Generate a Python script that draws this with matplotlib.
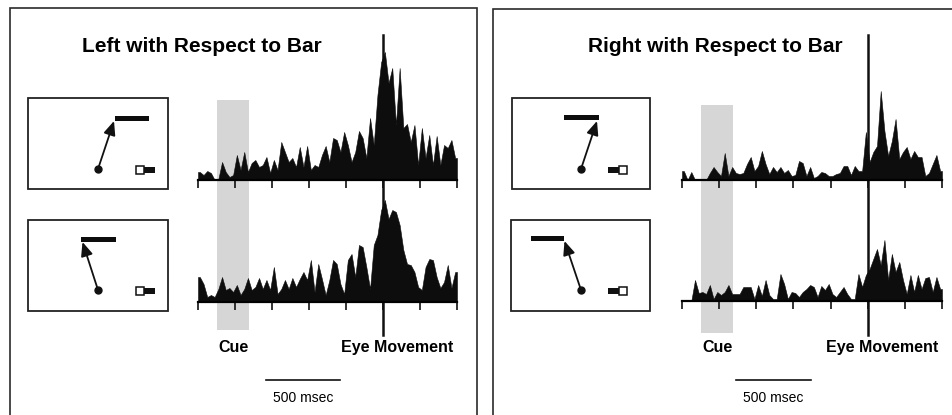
import matplotlib
matplotlib.use('Agg')
import matplotlib.pyplot as plt
from matplotlib.patches import Rectangle
import numpy as np

plt.rcParams['font.family'] = ['Liberation Sans', 'DejaVu Sans']

# ---------------- data (firing rate, arbitrary units; 25 ms bins) ----------------
bin_ms = 25
t_start, t_end = -1250, 500          # ms relative to eye movement
tick_times = list(range(-1250, 501, 250))
cue_window = (-1120, -905)           # ms
scale_bar_ms = 500

left_top = [8, 5, 9, 7, 0, 1, 18, 8, 3, 5, 25, 10, 28, 8, 17, 20, 13, 15, 23, 7,
            20, 10, 38, 28, 18, 22, 13, 33, 13, 34, 10, 15, 13, 25, 34, 18, 42, 40, 28, 48,
            35, 18, 28, 49, 42, 22, 62, 35, 85, 118, 128, 97, 112, 55, 112, 52, 56, 38, 55, 15,
            52, 22, 45, 15, 44, 15, 35, 32, 40, 22]
left_bottom = [25, 18, 5, 7, 5, 13, 25, 12, 14, 10, 17, 7, 13, 24, 12, 15, 24, 13, 22, 12,
               35, 8, 13, 22, 13, 24, 15, 23, 30, 22, 42, 10, 38, 23, 7, 22, 42, 38, 18, 8,
               42, 48, 25, 57, 55, 35, 13, 57, 67, 92, 102, 83, 92, 90, 77, 52, 38, 37, 30, 15,
               12, 35, 43, 42, 25, 14, 20, 37, 14, 30]
right_top = [9, 0, 8, 0, 0, 0, 0, 7, 13, 8, 4, 27, 4, 13, 7, 6, 7, 16, 23, 9,
             14, 29, 16, 6, 13, 8, 13, 7, 10, 4, 5, 19, 17, 4, 13, 2, 4, 8, 7, 4,
             4, 6, 7, 14, 14, 5, 14, 9, 9, 48, 18, 28, 34, 89, 49, 24, 39, 61, 21, 28,
             33, 21, 29, 23, 23, 4, 7, 16, 25, 9]
right_bottom = [0, 0, 0, 21, 8, 9, 7, 16, 2, 9, 6, 9, 16, 7, 7, 7, 14, 14, 14, 2,
                16, 5, 21, 6, 2, 2, 27, 17, 2, 9, 8, 4, 9, 12, 16, 14, 4, 15, 11, 17,
                7, 4, 9, 14, 7, 2, 2, 27, 14, 26, 32, 42, 52, 36, 61, 21, 47, 29, 39, 21,
                7, 26, 9, 26, 12, 23, 24, 9, 24, 12]

titles = ["Left with Respect to Bar", "Right with Respect to Bar"]
cue_label = "Cue"
event_label = "Eye Movement"
scale_label = "500 msec"

# ---------------- figure ----------------
W, H = 952, 415
fig = plt.figure(figsize=(W / 100, H / 100), dpi=100)
fig.patch.set_facecolor('white')

ov = fig.add_axes([0, 0, 1, 1], zorder=0)
ov.set_xlim(0, W)
ov.set_ylim(H, 0)
ov.axis('off')

# panel frames
ov.plot([10, 10, 477, 477], [H, 8, 8, H], color='#2a2a2a', lw=1.2, solid_joinstyle='miter')
ov.plot([493, 493, W], [H, 9, 9], color='#2a2a2a', lw=1.2, solid_joinstyle='miter')

centers = np.arange(t_start, t_end, bin_ms) + bin_ms / 2


def hist_axes(x0, x1, base, vals):
    ax = fig.add_axes([x0 / W, 1 - base / H, (x1 - x0) / W, 140 / H], zorder=2)
    ax.patch.set_alpha(0)
    xs = np.concatenate([[t_start], centers, [t_end]])
    ys = np.concatenate([[vals[0]], vals, [vals[-1]]])
    ax.fill_between(xs, 0, ys, color='#0d0d0d', lw=0.4, edgecolor='#0d0d0d')
    ax.set_xlim(t_start, t_end)
    ax.set_ylim(0, 140)
    for s in ['top', 'right', 'left']:
        ax.spines[s].set_visible(False)
    ax.spines['bottom'].set_linewidth(1.6)
    ax.set_xticks(tick_times)
    ax.set_xticklabels([])
    ax.set_yticks([])
    ax.tick_params(axis='x', direction='out', length=5.5, width=1.2, color='#111')
    return ax


def inset(box, bar, dot, tip, icon_y, open_left, icon_x):
    bx0, by0, bx1, by1 = box
    ov.add_patch(Rectangle((bx0, by0), bx1 - bx0, by1 - by0, fill=False,
                           edgecolor='#222', lw=1.3))
    ov.add_patch(Rectangle((bar[0], bar[1]), bar[2] - bar[0], 5, color='#0d0d0d', lw=0))
    ov.annotate('', xy=tip, xytext=dot,
                arrowprops=dict(arrowstyle='-|>,head_length=0.7,head_width=0.3',
                                lw=1.3, color='#111', shrinkA=0, shrinkB=0,
                                mutation_scale=12))
    ov.plot([dot[0]], [dot[1]], 'o', color='#111', ms=5)
    if open_left:
        sq_x, fl_x = icon_x, icon_x + 8
    else:
        fl_x, sq_x = icon_x, icon_x + 11
    ov.add_patch(Rectangle((fl_x, icon_y - 3), 11, 6, color='#111', lw=0))
    ov.add_patch(Rectangle((sq_x, icon_y - 4), 8, 8, facecolor='white',
                           edgecolor='#111', lw=1.1, zorder=3))


panels = [
    dict(x0=198, x1=457, title_x=202, data=(left_top, left_bottom), bases=(180, 302),
         cue_y=(100, 330), sb=-790),
    dict(x0=682, x1=942, title_x=715, data=(right_top, right_bottom), bases=(180, 301),
         cue_y=(105, 333), sb=-885),
]

for p, title in zip(panels, titles):
    bg = fig.add_axes([p['x0'] / W, 0, (p['x1'] - p['x0']) / W, 1], zorder=1)
    bg.set_xlim(t_start, t_end)
    bg.set_ylim(H, 0)
    bg.axis('off')
    cy0, cy1 = p['cue_y']
    bg.add_patch(Rectangle((cue_window[0], cy0), cue_window[1] - cue_window[0], cy1 - cy0,
                           color='#d6d6d6', lw=0))
    bg.plot([0, 0], [35, 335], color='#111', lw=1.8)
    bg.text(np.mean(cue_window), 352, cue_label, ha='center', va='baseline',
            fontsize=11.5, fontweight='bold')
    bg.text(95, 352, event_label, ha='center', va='baseline',
            fontsize=11.5, fontweight='bold')
    bg.plot([p['sb'], p['sb'] + scale_bar_ms], [380, 380], color='#111', lw=1.2)
    bg.text(p['sb'] + scale_bar_ms / 2, 401.5, scale_label, ha='center', va='baseline',
            fontsize=10)
    ov.text(p['title_x'], 52.5, title, ha='center', va='baseline',
            fontsize=15, fontweight='bold')
    for vals, base in zip(p['data'], p['bases']):
        hist_axes(p['x0'], p['x1'], base, np.array(vals, dtype=float))

# insets (schematic of bar, saccade and fixation)
inset((28, 98, 168, 189), (115, 116, 149), (98, 169), (114, 121), 170, True, 136)
inset((28, 220, 168, 311), (81, 237, 116), (98, 290), (82.5, 242), 291, True, 136)
inset((512, 98, 650, 189), (564, 115, 599), (581, 169), (597, 121), 170, False, 608)
inset((511, 220, 650, 311), (531, 236, 564), (581, 290), (564.5, 241), 291, False, 608)

fig.savefig('out.png', dpi=100, facecolor='white')
